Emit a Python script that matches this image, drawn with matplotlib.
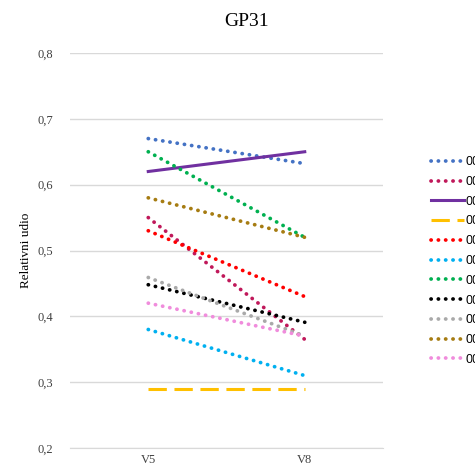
import matplotlib.pyplot as plt

plt.rcParams['font.family'] = ['Liberation Serif', 'DejaVu Serif']

categories = ['V5', 'V8']
labels = ['0001', '0002', '0003', '0004', '0005', '0006',
          '0007', '0008', '0009', '0010', '0011']
series = [
    [0.67, 0.632],
    [0.55, 0.365],
    [0.62, 0.65],
    [0.29, 0.29],
    [0.53, 0.43],
    [0.38, 0.31],
    [0.65, 0.52],
    [0.448, 0.391],
    [0.459, 0.37],
    [0.58, 0.52],
    [0.42, 0.37],
]
colors = ['#4472C4', '#C0185A', '#7030A0', '#FFC000', '#FF0000', '#00B0F0',
          '#00B050', '#000000', '#A9A9A9', '#A67C12', '#F08CDC']
styles = ['dot', 'dot', 'solid', 'dash', 'dot', 'dot',
          'dot', 'dot', 'dot', 'dot', 'dot']

fig = plt.figure(figsize=(4.75, 4.68), dpi=100)
ax = fig.add_axes([70 / 475, 20 / 468, 313 / 475, 395 / 468])

x = [0.5, 1.5]
for vals, lab, c, s in zip(series, labels, colors, styles):
    if s == 'dot':
        ax.plot(x, vals, color=c, lw=2.7, linestyle=(0, (0.05, 1.9)),
                dash_capstyle='round', label=lab)
    elif s == 'dash':
        ax.plot(x, vals, color=c, lw=2.2, linestyle=(0, (6, 2.5)),
                dash_capstyle='butt', label=lab)
    else:
        ax.plot(x, vals, color=c, lw=2.2, label=lab)

ax.set_xlim(0, 2)
ax.set_ylim(0.2, 0.8)
ax.set_xticks(x)
ax.set_xticklabels(categories)
yt = [0.2, 0.3, 0.4, 0.5, 0.6, 0.7, 0.8]
ax.set_yticks(yt)
ax.set_yticklabels([f'{v:.1f}'.replace('.', ',') for v in yt])
ax.yaxis.grid(True, color='#D9D9D9', lw=1)
ax.set_axisbelow(True)
for sp in ['top', 'right', 'left']:
    ax.spines[sp].set_visible(False)
ax.spines['bottom'].set_color('#D9D9D9')
ax.tick_params(axis='both', length=0, labelsize=9, colors='#404040', pad=12)
ax.tick_params(axis='x', pad=4)
ax.set_ylabel('Relativni udio', fontsize=9.5, labelpad=4)
fig.text(247 / 475, 1 - 21 / 468, 'GP31', fontsize=14, ha='center', va='center')

ax.legend(loc='center left', bbox_to_anchor=(426 / 475, 1 - 261 / 468),
          bbox_transform=fig.transFigure, frameon=False,
          prop={'family': ['Liberation Sans', 'DejaVu Sans'], 'size': 9},
          handlelength=2.6, handletextpad=0.15, labelspacing=0.62, borderaxespad=0)

fig.savefig('out.png', dpi=100)
